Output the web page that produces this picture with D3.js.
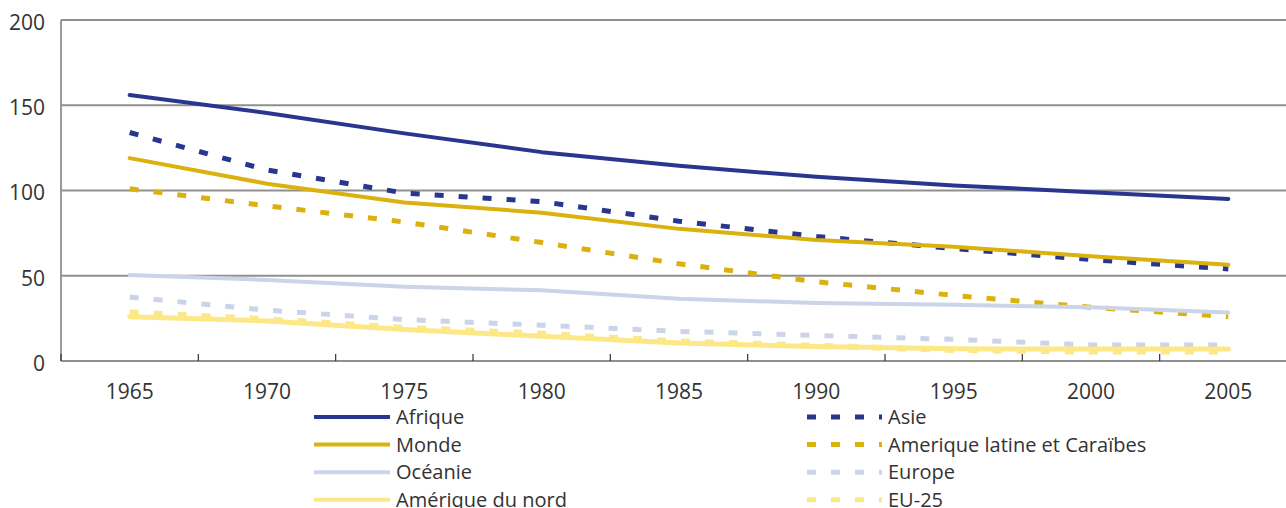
<!DOCTYPE html>
<html>
<head>
<meta charset="utf-8">
<script src="https://cdn.jsdelivr.net/npm/d3@7"></script>
<style>
  body { margin: 0; background: #fff; }
  svg { display: block; font-family: "Open Sans", "Noto Sans", sans-serif; }
</style>
</head>
<body>
<svg id="chart" width="1286" height="508"></svg>
<script>
// =============================
// Data
// =============================

const years = [1965, 1970, 1975, 1980, 1985, 1990, 1995, 2000, 2005];
const yTicks = [0, 50, 100, 150, 200];

const afrique = [156, 145.5, 133.5, 122.5, 114.5, 108, 103, 99, 95];
const asie = [134, 112, 98.5, 93.5, 82, 73, 66, 59.5, 54];
const monde = [119, 104, 93, 87, 77.5, 71, 67, 61.5, 56.5];
const ameriqueLatine = [101, 91, 81.5, 69.5, 57, 46.5, 38.5, 31.5, 26];
const oceanie = [50.5, 47.5, 43.5, 41.5, 36.5, 34, 33, 31.5, 28.5];
const europe = [37.5, 29.8, 24.3, 21, 17.4, 15, 12.7, 9.4, 9.4];
const ameriqueNord = [26, 23.5, 18.5, 14.5, 10.5, 8.5, 7.2, 7, 7];
const eu25 = [28.5, 24.5, 19.5, 16, 11.5, 9, 6.5, 5.5, 5.5];

const seriesNames = ["Afrique", "Asie", "Monde", "Amerique latine et Caraïbes",
    "Océanie", "Europe", "Amérique du nord", "EU-25"];

// series table built from the arrays above
const series = [
    { name: seriesNames[0], values: afrique, color: "#29368f", dashed: false, width: 4 },
    { name: seriesNames[1], values: asie, color: "#29368f", dashed: true, width: 5 },
    { name: seriesNames[2], values: monde, color: "#dbb10e", dashed: false, width: 4 },
    { name: seriesNames[3], values: ameriqueLatine, color: "#dbb10e", dashed: true, width: 5 },
    { name: seriesNames[4], values: oceanie, color: "#cbd4e8", dashed: false, width: 4 },
    { name: seriesNames[5], values: europe, color: "#cbd4e8", dashed: true, width: 5 },
    { name: seriesNames[6], values: ameriqueNord, color: "#fde888", dashed: false, width: 5 },
    { name: seriesNames[7], values: eu25, color: "#fde888", dashed: true, width: 6 }
];

// =============================
// Layout
// =============================

const plotLeft = 61, plotTop = 20, plotBottom = 361, plotRight = 1297;
const svg = d3.select("#chart");

const x = d3.scaleBand().domain(years).range([plotLeft, plotRight]).padding(0);
const y = d3.scaleLinear().domain([0, 200]).range([plotBottom, plotTop]);

// Gridlines
svg.append("g")
    .selectAll("line")
    .data(yTicks.filter(d => d > 0))
    .enter()
    .append("line")
    .attr("x1", plotLeft)
    .attr("x2", plotRight)
    .attr("y1", d => y(d))
    .attr("y2", d => y(d))
    .attr("stroke", "#8f8f8f")
    .attr("stroke-width", 1.8);

// Y axis
const yAxis = svg.append("g")
    .attr("transform", `translate(${plotLeft},0)`)
    .call(d3.axisLeft(y).tickValues(yTicks).tickSize(0).tickPadding(16));
yAxis.select(".domain").remove();
yAxis.selectAll("text")
    .attr("font-size", "21px")
    .attr("font-family", "\"Open Sans\", sans-serif")
    .attr("fill", "#333")
    .attr("dy", "0.45em");

// Left axis line and x axis line
svg.append("line")
    .attr("x1", plotLeft).attr("x2", plotLeft)
    .attr("y1", y(200)).attr("y2", plotBottom)
    .attr("stroke", "#8f8f8f").attr("stroke-width", 1.8);

svg.append("line")
    .attr("x1", plotLeft).attr("x2", plotRight)
    .attr("y1", plotBottom).attr("y2", plotBottom)
    .attr("stroke", "#8f8f8f").attr("stroke-width", 1.8);

// X axis labels (centered in bands)
const xAxis = svg.append("g")
    .attr("transform", `translate(0,${plotBottom})`)
    .call(d3.axisBottom(x).tickSize(0));
xAxis.select(".domain").remove();
xAxis.selectAll("text")
    .attr("font-size", "21px")
    .attr("font-family", "\"Open Sans\", sans-serif")
    .attr("fill", "#333")
    .attr("dy", null)
    .attr("y", 38);

// Tick marks at band boundaries, pointing inward
svg.append("g")
    .selectAll("line")
    .data(years)
    .enter()
    .append("line")
    .attr("x1", d => x(d))
    .attr("x2", d => x(d))
    .attr("y1", plotBottom - 7)
    .attr("y2", plotBottom)
    .attr("stroke", "#333")
    .attr("stroke-width", 1.2);

// =============================
// Lines
// =============================

const line = d3.line()
    .x((d, i) => x(years[i]) + x.bandwidth() / 2)
    .y(d => y(d));

svg.append("g")
    .selectAll("path")
    .data(series)
    .enter()
    .append("path")
    .attr("d", d => line(d.values))
    .attr("fill", "none")
    .attr("stroke", d => d.color)
    .attr("stroke-width", d => d.width)
    .attr("stroke-dasharray", d => d.dashed ? "9,15" : null)
    .attr("stroke-linejoin", "round")
    .attr("stroke-linecap", d => d.dashed ? "butt" : "round");

// =============================
// Legend (two columns)
// =============================

const legendCols = [{ x1: 314, x2: 390 }, { x1: 807, x2: 882 }];
const legendRowY = 417, legendRowStep = 27.6;

const legend = svg.append("g")
    .selectAll("g")
    .data(series)
    .enter()
    .append("g")
    .attr("transform", (d, i) => `translate(0,${legendRowY + Math.floor(i / 2) * legendRowStep})`);

legend.append("line")
    .attr("x1", (d, i) => legendCols[i % 2].x1)
    .attr("x2", (d, i) => legendCols[i % 2].x2)
    .attr("stroke", d => d.color)
    .attr("stroke-width", d => d.dashed ? 5 : 4)
    .attr("stroke-dasharray", d => d.dashed ? "9,15" : null);

legend.append("text")
    .attr("x", (d, i) => legendCols[i % 2].x2 + 6)
    .attr("dy", "0.36em")
    .attr("font-size", "20px")
    .attr("fill", "#333")
    .text(d => d.name);
</script>
</body>
</html>
